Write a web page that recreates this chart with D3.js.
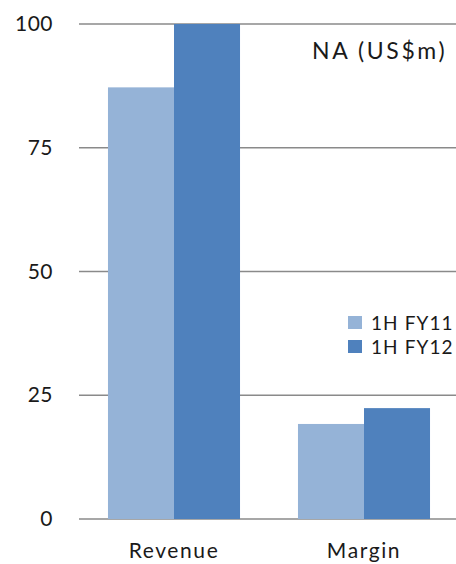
<!DOCTYPE html>
<html>
<head>
<meta charset="utf-8">
<script src="https://cdn.jsdelivr.net/npm/d3@7"></script>
<style>
  html, body { margin: 0; padding: 0; background: #fff; }
  svg { display: block; }
  text { font-family: Lato, "Open Sans", sans-serif; fill: #1a1a1a; }
</style>
</head>
<body>
<svg id="chart" width="456" height="564"></svg>
<script>
// Half-year figures for North America, US$ millions
const categories = ["Revenue", "Margin"];
const seriesNames = ["1H FY11", "1H FY12"];
const fy11 = [87.2, 19.2];
const fy12 = [100, 22.4];
const yTicks = [0, 25, 50, 75, 100];
const title = "NA (US$m)";
const colors = ["#95b3d7", "#4f81bd"];

const svg = d3.select("#chart");
const W = 456, H = 564;
const plot = { left: 79, right: 459, top: 24, bottom: 519 };

const rows = categories.map((c, i) => ({ category: c, values: [fy11[i], fy12[i]] }));

const x = d3.scaleBand()
  .domain(categories)
  .range([plot.left, plot.right])
  .paddingInner(0.305)
  .paddingOuter(0.1525);

const xSub = d3.scaleBand()
  .domain(d3.range(seriesNames.length))
  .range([0, x.bandwidth()]);

const y = d3.scaleLinear()
  .domain([0, 100])
  .range([plot.bottom, plot.top]);

// Value labels on the left
const yAxis = d3.axisLeft(y)
  .tickValues(yTicks)
  .tickSize(0)
  .tickPadding(26);

const gy = svg.append("g")
  .attr("transform", `translate(${plot.left},0)`)
  .call(yAxis);
gy.select(".domain").remove();
gy.selectAll("text")
  .attr("font-size", 21)
  .attr("font-family", "Lato, sans-serif")
  .attr("letter-spacing", 0.5)
  .attr("fill", "#1a1a1a");

// Horizontal gridlines
svg.append("g")
  .selectAll("line")
  .data(yTicks)
  .join("line")
  .attr("x1", plot.left)
  .attr("x2", W)
  .attr("y1", d => y(d))
  .attr("y2", d => y(d))
  .attr("stroke", "#8a8a8a")
  .attr("stroke-width", 1.6);

// Grouped bars
svg.append("g")
  .selectAll("g")
  .data(rows)
  .join("g")
  .attr("transform", d => `translate(${x(d.category)},0)`)
  .selectAll("rect")
  .data(d => d.values.map((v, i) => ({ v, i })))
  .join("rect")
  .attr("x", d => xSub(d.i))
  .attr("width", xSub.bandwidth())
  .attr("y", d => y(d.v))
  .attr("height", d => y(0) - y(d.v))
  .attr("fill", d => colors[d.i]);

// Category labels
const xAxis = d3.axisBottom(x).tickSize(0).tickPadding(24);
const gx = svg.append("g")
  .attr("transform", `translate(0,${plot.bottom})`)
  .call(xAxis);
gx.select(".domain").remove();
gx.selectAll("text")
  .attr("font-size", 21)
  .attr("font-family", "Lato, sans-serif")
  .attr("letter-spacing", 1.6)
  .attr("fill", "#1a1a1a");

// Title
svg.append("text")
  .attr("x", 312)
  .attr("y", 59)
  .attr("font-size", 23)
  .attr("letter-spacing", 2.6)
  .text(title);

// Legend
const legend = svg.append("g")
  .selectAll("g")
  .data(seriesNames)
  .join("g")
  .attr("transform", (d, i) => `translate(348,${323 + i * 24})`);
legend.append("rect")
  .attr("x", 0)
  .attr("y", -7)
  .attr("width", 14)
  .attr("height", 13)
  .attr("fill", (d, i) => colors[i]);
legend.append("text")
  .attr("x", 23)
  .attr("y", 0)
  .attr("dy", "0.35em")
  .attr("font-size", 19)
  .attr("letter-spacing", 1.1)
  .text(d => d);
</script>
</body>
</html>
